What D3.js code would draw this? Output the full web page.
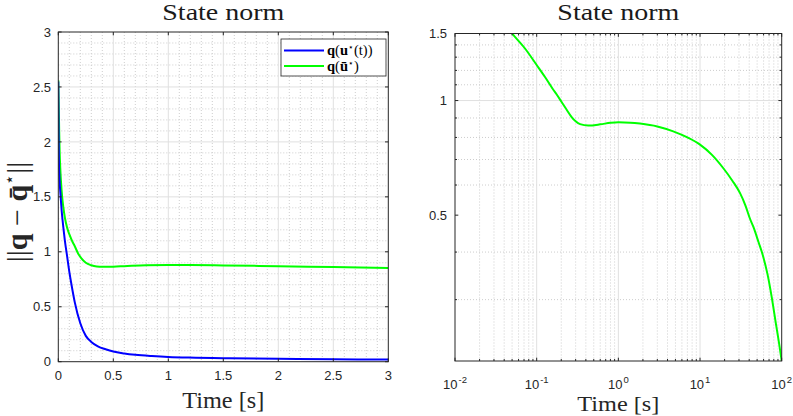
<!DOCTYPE html>
<html><head><meta charset="utf-8">
<script src="https://cdn.jsdelivr.net/npm/d3@7"></script>
<style>body{margin:0;background:#fff} svg{display:block}</style>
</head><body><svg id="c" width="793" height="416"></svg>
<script>
// ---------- data ----------
const blueT = [0, 0.003, 0.006, 0.01, 0.015, 0.02, 0.03, 0.045, 0.06, 0.08, 0.1, 0.12, 0.15, 0.2, 0.25, 0.3, 0.36, 0.43, 0.5, 0.6, 0.7, 0.85, 1, 1.25, 1.5, 2, 2.5, 3];
const blueV = [2.55, 2.05, 1.80, 1.68, 1.59, 1.52, 1.38, 1.23, 1.10, 0.96, 0.82, 0.70, 0.54, 0.35, 0.235, 0.18, 0.14, 0.113, 0.092, 0.075, 0.063, 0.051, 0.042, 0.036, 0.032, 0.026, 0.022, 0.019];
const greenT = [0, 0.004, 0.008, 0.012, 0.018, 0.025, 0.035, 0.045, 0.06, 0.08, 0.1, 0.125, 0.15, 0.18, 0.21, 0.25, 0.3, 0.35, 0.4, 0.5, 0.6, 0.8, 1, 1.2, 1.5, 2, 2.5, 3];
const greenV = [2.56, 2.35, 2.1, 1.92, 1.76, 1.63, 1.50, 1.41, 1.31, 1.22, 1.16, 1.10, 1.05, 0.985, 0.94, 0.90, 0.877, 0.866, 0.863, 0.865, 0.869, 0.877, 0.879, 0.879, 0.876, 0.869, 0.861, 0.853];
const logT = [0.03, 0.05, 0.072, 0.1, 0.1265, 0.159, 0.176, 0.202, 0.232, 0.268, 0.3, 0.34, 0.428, 0.6, 0.8, 1, 1.4, 1.84, 3, 4.7, 7, 10, 14, 19.2, 25, 30.8, 36, 40.8, 44.8, 52, 59.4, 67, 75.2, 85, 93, 100];
const logV = [1.75, 1.5, 1.37, 1.24, 1.153, 1.069, 1.037, 0.991, 0.947, 0.905, 0.882, 0.867, 0.86, 0.866, 0.874, 0.877, 0.875, 0.87, 0.855, 0.83, 0.80, 0.766, 0.72, 0.665, 0.615, 0.572, 0.53, 0.49, 0.467, 0.425, 0.389, 0.35, 0.306, 0.259, 0.23, 0.207];
const leftXTicks = [0, 0.5, 1, 1.5, 2, 2.5, 3];
const leftYTicks = [0, 0.5, 1, 1.5, 2, 2.5, 3];
const rightXExps = [-2, -1, 0, 1, 2];
const rightYTicks = [0.5, 1, 1.5];
const rightYMinor = [0.3, 0.4, 0.6, 0.7, 0.8, 0.9, 1.1, 1.2, 1.3, 1.4];
const titleText = "State norm";
const xLabelText = "Time [s]";

// ---------- setup ----------
const svg = d3.select("#c");
const AX = "#262626", GRID = "#e0e0e0", MINOR = "#cdcdcd";
const BLUE = "#0000ff", GREEN = "#00ff00";
const SERIF = "'Liberation Serif', 'DejaVu Serif', serif";
const SANS = "'Liberation Sans', Arial, sans-serif";

const L = {x0: 58.3, x1: 388.3, y0: 32, y1: 361.7};
const R = {x0: 455, x1: 781.7, y0: 33.5, y1: 361};

const lx = d3.scaleLinear().domain([0, 3]).range([L.x0, L.x1]);
const ly = d3.scaleLinear().domain([0, 3]).range([L.y1, L.y0]);
const rx = d3.scaleLog().domain([0.01, 100]).range([R.x0, R.x1]);
const ry = d3.scaleLog().domain([0.207, 1.5]).range([R.y1, R.y0]);

const defs = svg.append("defs");
function clip(id, P) {
  defs.append("clipPath").attr("id", id).append("rect")
    .attr("x", P.x0).attr("y", P.y0).attr("width", P.x1 - P.x0).attr("height", P.y1 - P.y0);
}
clip("clipL", L); clip("clipR", R);

function gridLines(g, P, xs, ys, xsc, ysc, color, dash) {
  g.selectAll(null).data(xs).enter().append("line")
    .attr("x1", d => xsc(d)).attr("x2", d => xsc(d)).attr("y1", P.y0).attr("y2", P.y1)
    .attr("stroke", color).attr("stroke-width", 1).attr("stroke-dasharray", dash);
  g.selectAll(null).data(ys).enter().append("line")
    .attr("y1", d => ysc(d)).attr("y2", d => ysc(d)).attr("x1", P.x0).attr("x2", P.x1)
    .attr("stroke", color).attr("stroke-width", 1).attr("stroke-dasharray", dash);
}
function ticks(g, P, xs, ys, xsc, ysc, len) {
  xs.forEach(d => {
    const x = xsc(d);
    g.append("line").attr("x1", x).attr("x2", x).attr("y1", P.y1).attr("y2", P.y1 - len).attr("stroke", AX);
    g.append("line").attr("x1", x).attr("x2", x).attr("y1", P.y0).attr("y2", P.y0 + len).attr("stroke", AX);
  });
  ys.forEach(d => {
    const y = ysc(d);
    g.append("line").attr("y1", y).attr("y2", y).attr("x1", P.x0).attr("x2", P.x0 + len).attr("stroke", AX);
    g.append("line").attr("y1", y).attr("y2", y).attr("x1", P.x1).attr("x2", P.x1 - len).attr("stroke", AX);
  });
}
function frame(g, P) {
  g.append("rect").attr("x", P.x0).attr("y", P.y0).attr("width", P.x1 - P.x0).attr("height", P.y1 - P.y0)
    .attr("fill", "none").attr("stroke", AX).attr("stroke-width", 1);
}

// ---------- left panel ----------
const gl = svg.append("g");
const lMinor = d3.range(0, 31).filter(i => i % 5 !== 0).map(i => i / 10);
gridLines(gl, L, lMinor, lMinor, lx, ly, MINOR, "1,2");
gridLines(gl, L, leftXTicks.slice(1, -1), leftYTicks.slice(1, -1), lx, ly, GRID, null);

const lineL = d3.line().x(d => lx(d[0])).y(d => ly(d[1])).curve(d3.curveMonotoneX);
const gData = gl.append("g").attr("clip-path", "url(#clipL)");
gData.append("path").datum(greenT.map((t, i) => [t, greenV[i]])).attr("d", lineL)
  .attr("fill", "none").attr("stroke", GREEN).attr("stroke-width", 2);
gData.append("path").datum(blueT.map((t, i) => [t, blueV[i]])).attr("d", lineL)
  .attr("fill", "none").attr("stroke", BLUE).attr("stroke-width", 2);

frame(gl, L);
ticks(gl, L, leftXTicks, leftYTicks, lx, ly, 3.3);

gl.selectAll(null).data(leftXTicks).enter().append("text")
  .attr("x", d => lx(d)).attr("y", 380).attr("text-anchor", "middle")
  .attr("font-family", SANS).attr("font-size", 13).attr("fill", AX).text(d => d);
gl.selectAll(null).data(leftYTicks).enter().append("text")
  .attr("x", 51).attr("y", d => ly(d) + 4.6).attr("text-anchor", "end")
  .attr("font-family", SANS).attr("font-size", 13).attr("fill", AX).text(d => d);

gl.append("text").attr("x", (L.x0 + L.x1) / 2).attr("y", 20).attr("text-anchor", "middle")
  .attr("font-family", SERIF).attr("font-size", 23).attr("fill", "#1a1a1a")
  .attr("textLength", 122).attr("lengthAdjust", "spacingAndGlyphs").text(titleText);
gl.append("text").attr("x", (L.x0 + L.x1) / 2).attr("y", 408).attr("text-anchor", "middle")
  .attr("font-family", SERIF).attr("font-size", 23).attr("fill", "#262626")
  .attr("textLength", 82).attr("lengthAdjust", "spacingAndGlyphs").text(xLabelText);

// y label
const yl = gl.append("text").attr("transform", "translate(27,212) rotate(-90)").attr("text-anchor", "middle")
  .attr("font-family", SERIF).attr("font-size", 30).attr("fill", "#262626");
yl.append("tspan").text("||");
yl.append("tspan").attr("font-weight", "bold").text("q");
yl.append("tspan").text(" \u2212 ");
yl.append("tspan").attr("font-weight", "bold").text("q\u0304");
yl.append("tspan").attr("font-size", 17).attr("dy", -12).text("\u22C6");
yl.append("tspan").attr("dy", 12).text("||");

// legend
const lg = gl.append("g");
lg.append("rect").attr("x", 281).attr("y", 39).attr("width", 105).attr("height", 37)
  .attr("fill", "#fff").attr("stroke", AX).attr("stroke-width", 0.8);
const legItems = [{c: BLUE, y: 50.5}, {c: GREEN, y: 66}];
lg.selectAll(null).data(legItems).enter().append("line")
  .attr("x1", 284).attr("x2", 324).attr("y1", d => d.y).attr("y2", d => d.y)
  .attr("stroke", d => d.c).attr("stroke-width", 2);
const t1 = lg.append("text").attr("x", 327).attr("y", 55).attr("font-family", SERIF).attr("font-size", 14.5).attr("fill", "#000");
t1.append("tspan").attr("font-weight", "bold").text("q");
t1.append("tspan").text("(");
t1.append("tspan").attr("font-weight", "bold").text("u");
t1.append("tspan").attr("font-size", 9).attr("dy", -5).text("\u22C6");
t1.append("tspan").attr("dy", 5).text("(t))");
const t2 = lg.append("text").attr("x", 327).attr("y", 70.5).attr("font-family", SERIF).attr("font-size", 14.5).attr("fill", "#000");
t2.append("tspan").attr("font-weight", "bold").text("q");
t2.append("tspan").text("(");
t2.append("tspan").attr("font-weight", "bold").text("u\u0304");
t2.append("tspan").attr("font-size", 9).attr("dy", -5).text("\u22C6");
t2.append("tspan").attr("dy", 5).text(")");

// ---------- right panel ----------
const gr = svg.append("g");
const rxMinor = [];
rightXExps.slice(0, -1).forEach(e => { for (let m = 2; m <= 9; m++) rxMinor.push(m * Math.pow(10, e)); });
const rxMajor = rightXExps.map(e => Math.pow(10, e));
gridLines(gr, R, rxMinor, rightYMinor, rx, ry, MINOR, "1,2");
gridLines(gr, R, rxMajor.slice(1, -1), [1], rx, ry, GRID, null);

const lineR = d3.line().x(d => rx(d[0])).y(d => ry(d[1])).curve(d3.curveMonotoneX);
gr.append("g").attr("clip-path", "url(#clipR)").append("path")
  .datum(logT.map((t, i) => [t, logV[i]])).attr("d", lineR)
  .attr("fill", "none").attr("stroke", GREEN).attr("stroke-width", 2);

frame(gr, R);
ticks(gr, R, rxMajor, rightYTicks, rx, ry, 3.3);
ticks(gr, R, rxMinor, rightYMinor, rx, ry, 2);

const xl = gr.selectAll(null).data(rightXExps).enter().append("text")
  .attr("x", d => rx(Math.pow(10, d))).attr("y", 389).attr("text-anchor", "middle")
  .attr("font-family", SANS).attr("font-size", 13).attr("fill", AX);
xl.append("tspan").text("10");
xl.append("tspan").attr("font-size", 9.5).attr("dy", -6).attr("dx", 1).text(d => d < 0 ? "-" + (-d) : d);

gr.selectAll(null).data(rightYTicks).enter().append("text")
  .attr("x", 447).attr("y", d => ry(d) + 4.6).attr("text-anchor", "end")
  .attr("font-family", SANS).attr("font-size", 13).attr("fill", AX).text(d => d);

gr.append("text").attr("x", (R.x0 + R.x1) / 2).attr("y", 20).attr("text-anchor", "middle")
  .attr("font-family", SERIF).attr("font-size", 23).attr("fill", "#1a1a1a")
  .attr("textLength", 122).attr("lengthAdjust", "spacingAndGlyphs").text(titleText);
gr.append("text").attr("x", (R.x0 + R.x1) / 2).attr("y", 411).attr("text-anchor", "middle")
  .attr("font-family", SERIF).attr("font-size", 20).attr("fill", "#262626")
  .attr("textLength", 82).attr("lengthAdjust", "spacingAndGlyphs").text(xLabelText);
</script></body></html>
